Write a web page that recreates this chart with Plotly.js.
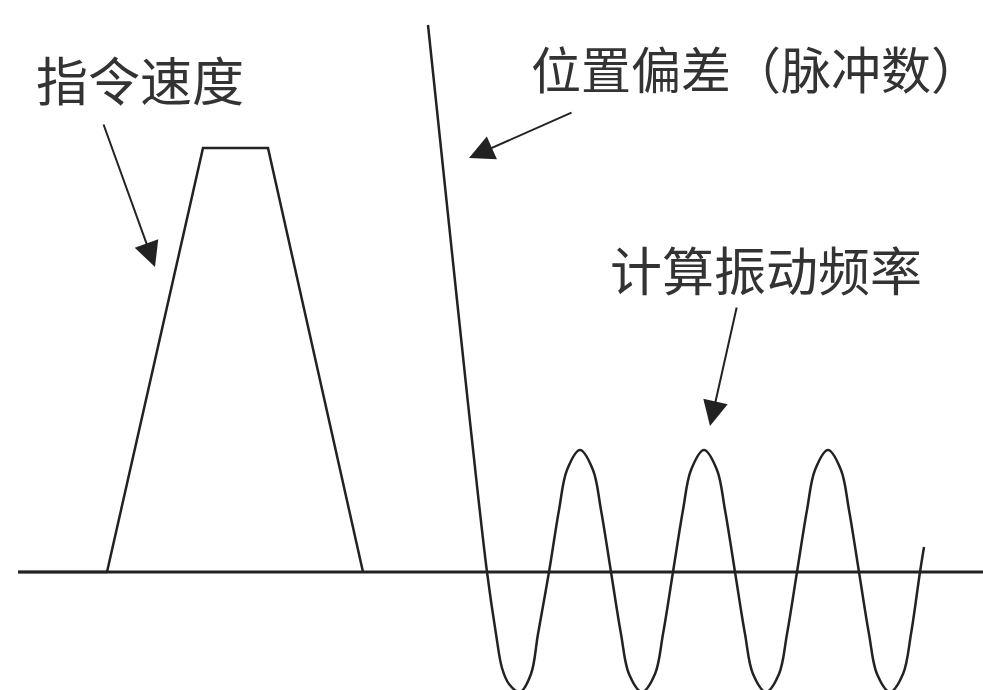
<!DOCTYPE html>
<html>
<head>
<meta charset="utf-8">
<script src="https://cdn.plot.ly/plotly-3.0.1.min.js"></script>
<style>html,body{margin:0;padding:0;background:#fff;}#chart{width:983px;height:690px;}</style>
</head>
<body>
<div id="chart"></div>
<script>
// Baseline (zero axis)
const baseX = [18, 983];
const baseY = [0, 0];

// Command speed (trapezoid)
const cmdX = [18, 107, 203, 268, 363];
const cmdY = [0, 0, 424, 424, 0];

// Position deviation (pulses): steep fall then oscillation
const devX = [428, 457, 472, 487, 496, 502, 509, 520, 531, 538, 549, 559, 567, 580, 593, 601, 611, 621, 629, 642, 655, 663, 673, 683, 691, 704, 717, 725, 735, 745, 753, 766, 779, 787, 797, 807, 815, 828, 841, 849, 859, 869, 877, 890, 903, 911, 920, 924];
const devY = [547, 272, 132, 0, -62, -96, -112, -120, -102, -62, 0, 62, 102, 122, 102, 62, 0, -62, -102, -120, -102, -62, 0, 62, 102, 122, 102, 62, 0, -62, -102, -120, -102, -62, 0, 62, 102, 122, 102, 62, 0, -62, -102, -120, -102, -62, 0, 25];

// Labels and arrows
const labelText = ["指令速度", "位置偏差（脉冲数）", "计算振动频率"];
const labelX = [140, 756, 766];
const labelY = [494, 505, 304];
const labelSize = [52, 50, 52];
const arrowTailX = [103, 573, 737];
const arrowTailY = [449, 460, 266];
const arrowHeadX = [155, 469, 710];
const arrowHeadY = [305, 414, 146];

const lineColor = '#222';
const traces = [
  {x: baseX, y: baseY, mode: 'lines', line: {color: lineColor, width: 3}, hoverinfo: 'skip'},
  {x: cmdX, y: cmdY, mode: 'lines', line: {color: lineColor, width: 2.5}, hoverinfo: 'skip'},
  {x: devX, y: devY, mode: 'lines', line: {color: lineColor, width: 2.5, shape: 'spline', smoothing: 1}, hoverinfo: 'skip'}
];

const annotations = [];
for (let i = 0; i < labelText.length; i++) {
  annotations.push({
    x: labelX[i], y: labelY[i], xref: 'x', yref: 'y', text: labelText[i], showarrow: false,
    xanchor: 'center', yanchor: 'middle', borderpad: 0,
    font: {family: '"Noto Sans CJK SC", sans-serif', size: labelSize[i], color: '#333'}
  });
  annotations.push({
    x: arrowHeadX[i], y: arrowHeadY[i], ax: arrowTailX[i], ay: arrowTailY[i],
    xref: 'x', yref: 'y', axref: 'x', ayref: 'y', text: '', showarrow: true,
    arrowhead: 2, arrowsize: 2.5, arrowwidth: 2, arrowcolor: lineColor
  });
}

const layout = {
  width: 983, height: 690,
  margin: {l: 0, r: 0, t: 0, b: 0},
  paper_bgcolor: '#fff', plot_bgcolor: '#fff',
  showlegend: false,
  xaxis: {range: [0, 983], visible: false, fixedrange: true},
  yaxis: {range: [-118, 572], visible: false, fixedrange: true},
  annotations: annotations
};

Plotly.newPlot('chart', traces, layout, {displayModeBar: false, staticPlot: true});
</script>
</body>
</html>
